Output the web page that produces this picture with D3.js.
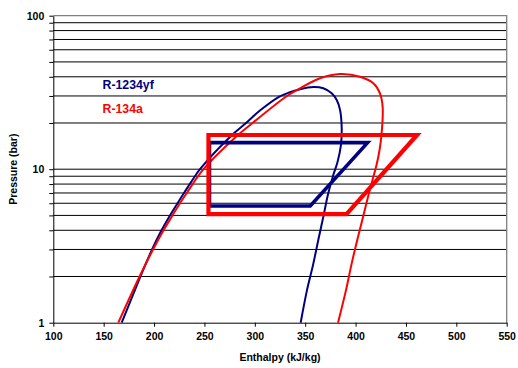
<!DOCTYPE html>
<html>
<head>
<meta charset="utf-8">
<script src="https://cdn.jsdelivr.net/npm/d3@7"></script>
<style>
body { margin: 0; background: #fff; }
svg { display: block; font-family: "Liberation Sans", Arial, sans-serif; }
</style>
</head>
<body>
<script>
// saturation dome, R-1234yf (enthalpy kJ/kg, pressure bar)
var yfDomeH = [167.9, 186.5, 198.0, 207.4, 215.8, 223.3, 229.7, 235.5, 240.6, 245.6, 277.4, 291.3, 305.1, 324.0, 334.9, 344.9, 358.1, 368.0, 376.3, 381.3, 384.6, 386.2, 385.5, 382.1, 377.9, 372.9, 368.0, 363.0, 357.8, 351.8, 345.5];
var yfDomeP = [1.0, 2.0, 3.0, 4.0, 5.0, 6.0, 7.0, 8.0, 9.0, 10.0, 16.7, 20.0, 24.1, 29.6, 31.7, 33.2, 34.3, 33.65, 31.2, 28.2, 24.3, 18.9, 14.4, 11.14, 9.17, 6.97, 4.9, 3.46, 2.38, 1.63, 1.0];

// saturation dome, R-134a
var r134DomeH = [164.5, 185.6, 199.0, 209.4, 218.3, 225.7, 232.5, 249.1, 283.3, 297.7, 331.9, 344.9, 364.7, 384.6, 404.4, 417.6, 424.2, 426.9, 425.7, 423.8, 420.8, 416.8, 412.8, 407.9, 402.4, 396.5, 390.5, 382.6];
var r134DomeP = [1.0, 2.0, 3.0, 4.0, 5.0, 6.0, 7.0, 10.0, 16.7, 20.0, 30.0, 33.65, 39.1, 41.7, 40.05, 36.3, 31.2, 25.4, 16.7, 13.34, 10.65, 8.51, 6.79, 5.03, 3.62, 2.49, 1.63, 1.0];

// refrigeration cycles
var yfCycleH = [255, 412, 355, 255];
var yfCycleP = [14.9, 14.9, 5.76, 5.76];
var r134CycleH = [254, 461, 391, 254];
var r134CycleP = [16.7, 16.7, 5.1, 5.1];

var xTicks = [100, 150, 200, 250, 300, 350, 400, 450, 500, 550];
var yGrid = [1, 2, 3, 4, 5, 6, 7, 8, 9, 10, 20, 30, 40, 50, 60, 70, 80, 90, 100];
var yLabels = [1, 10, 100];

var seriesNames = ["R-1234yf", "R-134a"];
var navy = "#000080";
var red = "#ff0000";

var width = 518, height = 368;
var plotL = 53.3, plotR = 506.7, plotT = 15.7, plotB = 322.7;

var svg = d3.select("body").append("svg")
	.attr("width", width)
	.attr("height", height);

var x = d3.scaleLinear().domain([100, 550]).range([plotL, plotR]);
var y = d3.scaleLog().domain([1, 100]).range([plotB, plotT]);

// horizontal gridlines
svg.append("g").selectAll("line")
	.data(yGrid.filter(d => d > 1 && d < 100))
	.enter().append("line")
	.attr("x1", plotL).attr("x2", plotR)
	.attr("y1", d => y(d)).attr("y2", d => y(d))
	.style("stroke", "#000")
	.style("stroke-width", 1);

// frame top / right
svg.append("path")
	.attr("d", `M${plotL},${plotT}H${plotR}V${plotB}`)
	.style("fill", "none")
	.style("stroke", "#808080")
	.style("stroke-width", 1.3);

// axes
var xAxis = svg.append("g")
	.attr("transform", `translate(0,${plotB})`)
	.call(d3.axisBottom(x).tickValues(xTicks).tickSize(4).tickSizeOuter(0).tickPadding(6));
var yAxis = svg.append("g")
	.attr("transform", `translate(${plotL},0)`)
	.call(d3.axisLeft(y).tickValues(yGrid).tickSize(4).tickSizeOuter(0).tickPadding(5)
		.tickFormat(d => yLabels.indexOf(d) >= 0 ? d : ""));

[xAxis, yAxis].forEach(function(a) {
	a.selectAll("path, line").style("stroke", "#000").style("stroke-width", 1);
	a.selectAll("text")
		.style("font-family", "Liberation Sans, Arial, sans-serif")
		.style("font-size", "10.5px")
		.style("font-weight", "bold")
		.style("fill", "#000");
});

var line = d3.line()
	.x(d => x(d[0]))
	.y(d => y(d[1]))
	.curve(d3.curveCatmullRom.alpha(0.5));

function zipPts(hs, ps) {
	return hs.map((h, i) => [h, ps[i]]);
}

svg.append("path")
	.datum(zipPts(yfDomeH, yfDomeP))
	.attr("d", line)
	.style("fill", "none")
	.style("stroke", navy)
	.style("stroke-width", 2);

svg.append("path")
	.datum(zipPts(r134DomeH, r134DomeP))
	.attr("d", line)
	.style("fill", "none")
	.style("stroke", red)
	.style("stroke-width", 2);

var poly = d3.line()
	.x(d => x(d[0]))
	.y(d => y(d[1]));

svg.append("path")
	.datum(zipPts(yfCycleH, yfCycleP))
	.attr("d", d => poly(d) + "Z")
	.style("fill", "none")
	.style("stroke", navy)
	.style("stroke-width", 3.6)
	.style("stroke-linejoin", "miter");

svg.append("path")
	.datum(zipPts(r134CycleH, r134CycleP))
	.attr("d", d => poly(d) + "Z")
	.style("fill", "none")
	.style("stroke", red)
	.style("stroke-width", 4.2)
	.style("stroke-linejoin", "miter");

// legend labels
svg.selectAll(".legend")
	.data(seriesNames)
	.enter().append("text")
	.attr("class", "legend")
	.attr("x", 102.5)
	.attr("y", (d, i) => 89 + i * 24)
	.text(d => d)
	.style("font-size", "12.3px")
	.style("font-weight", "bold")
	.style("fill", (d, i) => i == 0 ? navy : red);

// axis titles
svg.append("text")
	.attr("x", (plotL + plotR) / 2)
	.attr("y", 361)
	.attr("text-anchor", "middle")
	.text("Enthalpy (kJ/kg)")
	.style("font-size", "10.5px")
	.style("font-weight", "bold");

svg.append("text")
	.attr("transform", `translate(17,${(plotT + plotB) / 2}) rotate(-90)`)
	.attr("text-anchor", "middle")
	.text("Pressure (bar)")
	.style("font-size", "10.5px")
	.style("font-weight", "bold");
</script>
</body>
</html>
